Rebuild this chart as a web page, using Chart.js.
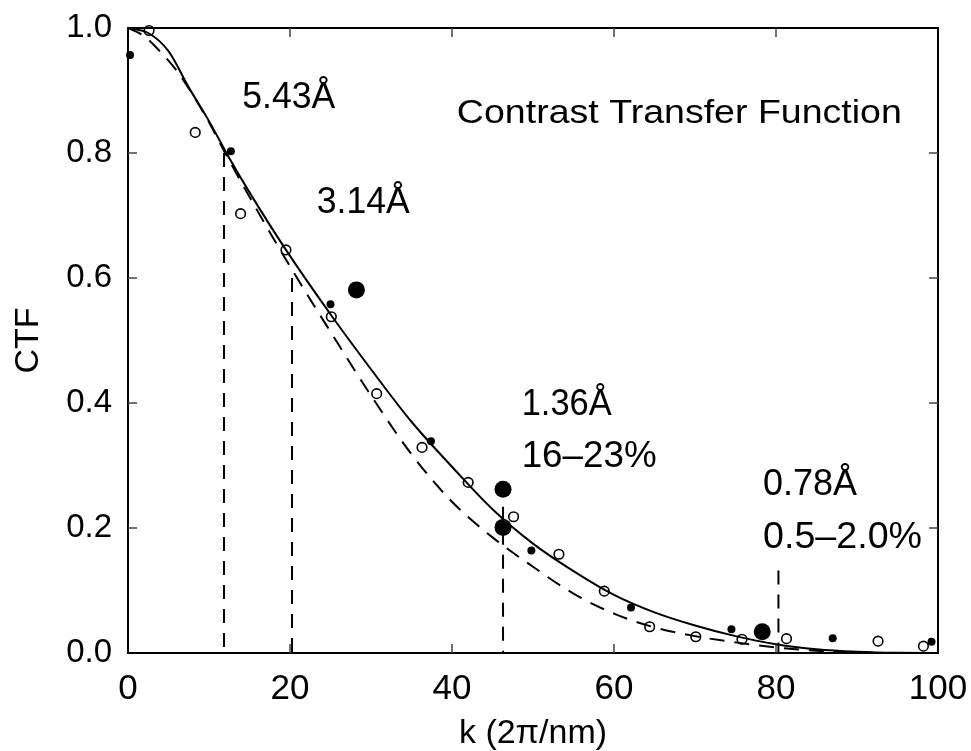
<!DOCTYPE html>
<html>
<head>
<meta charset="utf-8">
<script src="https://cdn.jsdelivr.net/npm/chart.js@4.4.1/dist/chart.umd.min.js"></script>
<style>
  html, body { margin: 0; padding: 0; background: #fff; }
  #wrap { width: 971px; height: 751px; }
</style>
</head>
<body>
<div id="wrap"><canvas id="ctf"></canvas></div>
<script>
// fitted curves
const kSolid = [0, 2.5, 5, 7.5, 10, 12.5, 15, 19.5, 25, 30, 35, 40, 45, 50, 55, 60, 65, 70, 75, 80, 85, 90, 95, 100];
const ctfSolid = [1.0, 0.992, 0.963, 0.905, 0.851, 0.792, 0.737, 0.645, 0.542, 0.454, 0.370, 0.298, 0.230, 0.175, 0.131, 0.093, 0.065, 0.044, 0.027, 0.014, 0.006, 0.002, 0.0003, 0];

const kDashed = [0, 2, 4, 6, 8, 10, 12, 16, 20.4, 25, 30, 35, 40, 45, 50, 55, 60, 65, 70, 75, 80, 85, 90, 95, 100];
const ctfDashed = [1.0, 0.987, 0.962, 0.932, 0.893, 0.849, 0.80, 0.707, 0.610, 0.514, 0.412, 0.318, 0.242, 0.185, 0.138, 0.095, 0.063, 0.041, 0.027, 0.017, 0.009, 0.0035, 0.001, 0, 0];

// measured points
const kOpen = [2.6, 8.3, 13.9, 19.5, 25.1, 30.7, 36.3, 42.0, 47.6, 53.2, 58.8, 64.4, 70.1, 75.8, 81.3, 92.6, 98.2];
const ctfOpen = [0.996, 0.833, 0.703, 0.645, 0.538, 0.415, 0.329, 0.273, 0.218, 0.158, 0.099, 0.042, 0.026, 0.022, 0.023, 0.019, 0.011];

const kSmall = [0.25, 12.7, 25.0, 37.4, 49.8, 62.1, 74.5, 87.0, 99.2];
const ctfSmall = [0.957, 0.803, 0.558, 0.339, 0.164, 0.073, 0.038, 0.0235, 0.018];

const kLarge = [28.2, 46.3, 46.3, 78.3];
const ctfLarge = [0.581, 0.262, 0.201, 0.034];

// resolution markers (dashed drop lines)
const kMarks = [11.85, 20.25, 46.3, 80.3];
const ctfMarks = [0.80, 0.60, 0.234, 0.132];

const xTicks = [0, 20, 40, 60, 80, 100];
const yTicks = [0, 0.2, 0.4, 0.6, 0.8, 1.0];

const FONT = '"Liberation Sans", Arial, Helvetica, sans-serif';
Chart.defaults.font.family = FONT;
Chart.defaults.color = '#000';

const pts = (xs, ys) => xs.map((x, i) => ({ x, y: ys[i] }));

const dropLines = kMarks.map((k, i) => ({
  data: [{ x: k, y: ctfMarks[i] }, { x: k, y: 0 }],
  showLine: true,
  borderColor: '#000',
  borderWidth: 2,
  borderDash: [14, 10],
  pointRadius: 0,
  order: 5,
}));

const notes = [
  { text: 'Contrast Transfer Function', k: 40.6, v: 0.848, size: 33, w: 445 },
  { text: '5.43Å', k: 14.1, v: 0.872, size: 37, w: 93 },
  { text: '3.14Å', k: 23.3, v: 0.704, size: 37, w: 93 },
  { text: '1.36Å', k: 48.6, v: 0.381, size: 37, w: 90 },
  { text: '16–23%', k: 48.6, v: 0.298, size: 37, w: 135 },
  { text: '0.78Å', k: 78.4, v: 0.253, size: 37, w: 94 },
  { text: '0.5–2.0%', k: 78.4, v: 0.168, size: 37, w: 159 },
];

const frame = {
  id: 'frame',
  beforeDatasetsDraw(chart) {
    const { ctx, chartArea: a, scales: { x, y } } = chart;
    ctx.save();
    ctx.strokeStyle = '#000';
    ctx.lineWidth = 2;
    ctx.strokeRect(a.left, a.top, a.right - a.left, a.bottom - a.top);
    ctx.strokeStyle = '#444';
    ctx.lineWidth = 1.5;
    ctx.beginPath();
    xTicks.slice(1, -1).forEach((v) => {
      const px = x.getPixelForValue(v);
      ctx.moveTo(px, a.bottom); ctx.lineTo(px, a.bottom - 9);
      ctx.moveTo(px, a.top); ctx.lineTo(px, a.top + 9);
    });
    yTicks.slice(1, -1).forEach((v) => {
      const py = y.getPixelForValue(v);
      ctx.moveTo(a.left, py); ctx.lineTo(a.left + 9, py);
      ctx.moveTo(a.right, py); ctx.lineTo(a.right - 9, py);
    });
    ctx.stroke();
    ctx.restore();
  },
  afterDatasetsDraw(chart) {
    const { ctx, scales: { x, y } } = chart;
    ctx.save();
    ctx.fillStyle = '#000';
    ctx.textBaseline = 'alphabetic';
    ctx.textAlign = 'left';
    notes.forEach((n) => {
      ctx.font = `${n.size}px ${FONT}`;
      const sx = n.w / ctx.measureText(n.text).width;
      ctx.save();
      ctx.translate(x.getPixelForValue(n.k), y.getPixelForValue(n.v));
      ctx.scale(sx, 1);
      ctx.fillText(n.text, 0, 0);
      ctx.restore();
    });
    ctx.restore();
  },
};

// drop the label overflow padding so the plot box sits where layout.padding says
const noOverflow = (s) => {
  s.paddingLeft = 0; s.paddingRight = 0; s.paddingTop = 0; s.paddingBottom = 0;
};

new Chart(document.getElementById('ctf'), {
  type: 'scatter',
  data: {
    datasets: [
      {
        data: pts(kLarge, ctfLarge),
        pointRadius: 8.5,
        backgroundColor: '#000',
        borderColor: '#000',
        borderWidth: 0,
        clip: false,
        order: 0,
      },
      {
        data: pts(kSmall, ctfSmall),
        pointRadius: 4,
        backgroundColor: '#000',
        borderColor: '#000',
        borderWidth: 0,
        clip: false,
        order: 1,
      },
      {
        data: pts(kOpen, ctfOpen),
        pointRadius: 4.8,
        backgroundColor: 'rgba(0,0,0,0)',
        borderColor: '#000',
        borderWidth: 1.6,
        clip: false,
        order: 2,
      },
      {
        data: pts(kSolid, ctfSolid),
        showLine: true,
        borderColor: '#000',
        borderWidth: 2,
        pointRadius: 0,
        cubicInterpolationMode: 'monotone',
        order: 3,
      },
      {
        data: pts(kDashed, ctfDashed),
        showLine: true,
        borderColor: '#000',
        borderWidth: 2,
        borderDash: [15, 10],
        pointRadius: 0,
        cubicInterpolationMode: 'monotone',
        order: 4,
      },
      ...dropLines,
    ],
  },
  options: {
    responsive: true,
    maintainAspectRatio: false,
    animation: false,
    events: [],
    layout: { padding: { top: 28, right: 33, left: 0, bottom: 0 } },
    plugins: { legend: { display: false }, tooltip: { enabled: false } },
    scales: {
      x: {
        type: 'linear',
        min: 0,
        max: 100,
        grid: { display: false, drawTicks: false },
        border: { display: false },
        ticks: { stepSize: 20, padding: 15, font: { size: 35 } },
        title: { display: true, text: 'k (2π/nm)', font: { size: 34, lineHeight: 1.0 }, padding: 0 },
        afterFit: (s) => { s.height = 98; noOverflow(s); },
      },
      y: {
        min: 0,
        max: 1,
        grid: { display: false, drawTicks: false },
        border: { display: false },
        ticks: { stepSize: 0.2, padding: 16, font: { size: 33 }, callback: (v) => v.toFixed(1) },
        title: { display: true, text: 'CTF', font: { size: 34 }, padding: { top: 8, bottom: 0 } },
        afterFit: (s) => { s.width = 128; noOverflow(s); },
      },
    },
  },
  plugins: [frame],
});
</script>
</body>
</html>
